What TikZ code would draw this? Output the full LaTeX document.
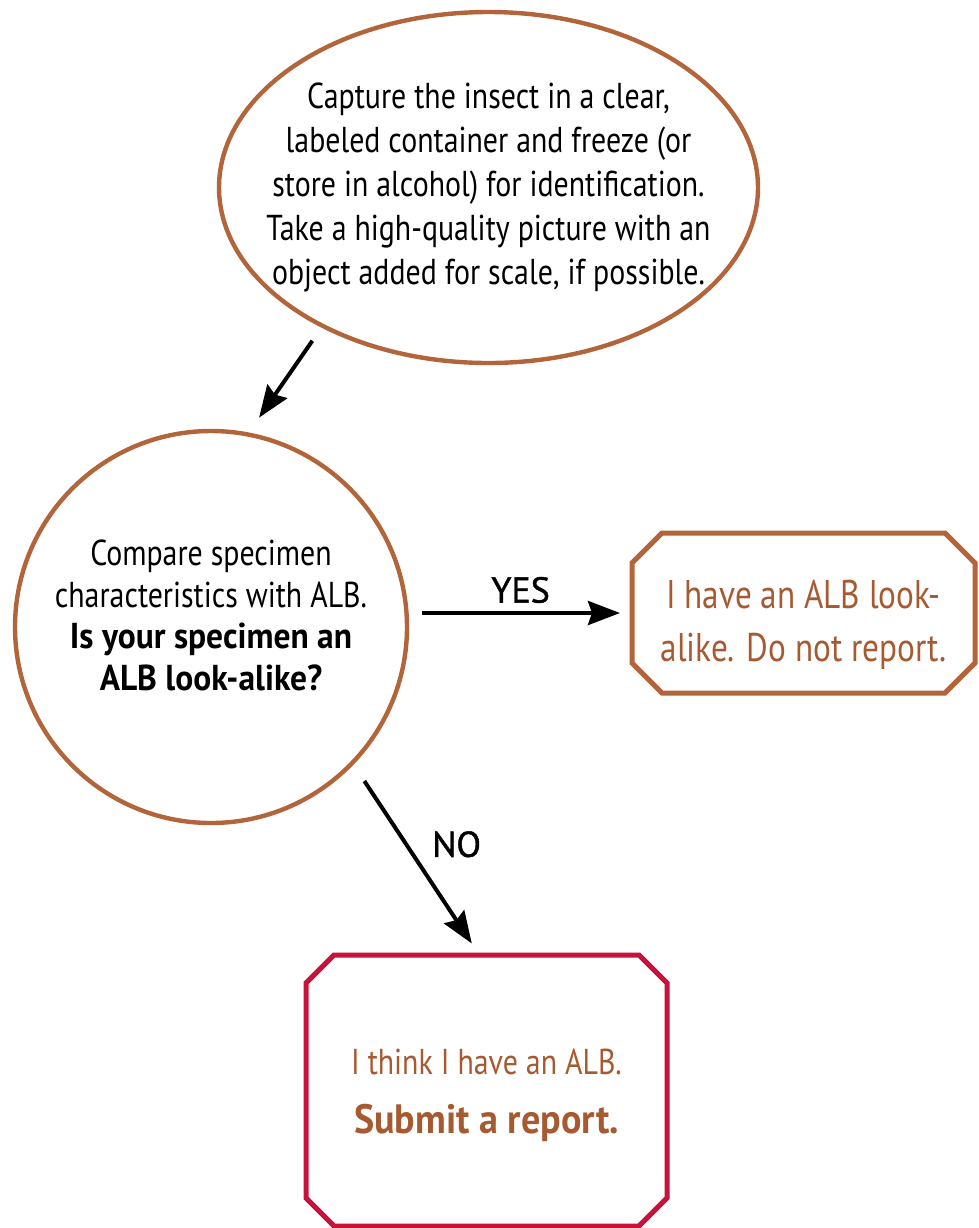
\documentclass[tikz,border=0pt]{standalone}
\usepackage{fontspec}
\setmainfont{PT Sans}[FakeStretch=0.83, BoldFeatures={FakeStretch=0.93}]
\newfontfamily\answerfont{PT Sans}[FakeBold=1.2]
\usepackage{tikz}
\usetikzlibrary{arrows.meta,positioning,shapes.geometric,calc}
\definecolor{albbrown}{RGB}{178,100,58}
\definecolor{textbrown}{RGB}{166,90,50}
\definecolor{albred}{RGB}{200,18,60}

% octagon frame round a rectangular node: node, colour, corner cut
\newcommand{\chamferframe}[3]{%
  \draw[#2, line width=2.5pt]
    ($(#1.north west)+(#3,0pt)$) -- ($(#1.north east)+(-#3,0pt)$)
    -- ($(#1.north east)+(0pt,-#3)$) -- ($(#1.south east)+(0pt,#3)$)
    -- ($(#1.south east)+(-#3,0pt)$) -- ($(#1.south west)+(#3,0pt)$)
    -- ($(#1.south west)+(0pt,#3)$) -- ($(#1.north west)+(0pt,-#3)$) -- cycle;}

\begin{document}
\begin{tikzpicture}[
    x=0.5pt, y=-0.5pt,
    bubble/.style={draw=albbrown, line width=2.2pt, ellipse, align=center,
                inner xsep=-20pt, inner ysep=0pt,
                font=\fontsize{18}{22}\selectfont},
    question/.style={draw=albbrown, line width=2.2pt, circle, align=center,
                minimum size=196pt, inner sep=0pt,
                font=\fontsize{18}{20.8}\selectfont},
    outcome/.style={rectangle, align=center, text=textbrown, inner sep=0pt,
                outer sep=0pt},
    arrow/.style={-{Stealth[length=16pt,width=12pt,inset=2pt]}, line width=2pt},
    answer/.style={font=\answerfont\fontsize{18}{20}\selectfont, inner sep=0pt}
]
\useasboundingbox (0,0) rectangle (979,1228);

\node[bubble, minimum width=269.5pt, minimum height=175.5pt] (capture) at (488.5,187.5)
    {Capture the insect in a clear,\\labeled container and freeze (or\\store in alcohol) for identification.\\Take a high-quality picture with an\\object added for scale, if possible.};

\node[question] (compare) at (211,627)
    {Compare specimen\\characteristics with ALB.\\\textbf{Is your specimen an}\\\textbf{ALB look-alike?}\rule[-12pt]{0pt}{12pt}};

\node[outcome, minimum width=171.5pt, minimum height=80pt,
      font=\fontsize{20}{26.5}\selectfont] (lookalike) at (803.5,613)
    {\rule{0pt}{26pt}I have an ALB look-\\alike. Do not report.};
\chamferframe{lookalike}{albbrown}{15pt}

\node[outcome, minimum width=180.5pt, minimum height=135.5pt,
      font=\fontsize{18}{23}\selectfont] (report) at (486.5,1090.5)
    {\rule{0pt}{18pt}I think I have an ALB.\\[6.5pt]{\fontsize{20.5}{23}\selectfont\bfseries Submit a report.}};
\chamferframe{report}{albred}{14pt}

\draw[arrow, shorten <=8pt, shorten >=9pt] (capture.220.4) -- (compare.79.4);
\draw[arrow, shorten <=6.5pt, shorten >=6pt] (compare.east |- lookalike.west) -- (lookalike.west)
    node[midway, above=4pt, answer] {YES};
\draw[arrow, shorten <=9.8pt, shorten >=6.9pt] (compare.-44.4) -- (report.93)
    node[pos=0.418, right=12pt, answer] {NO};

\end{tikzpicture}
\end{document}
